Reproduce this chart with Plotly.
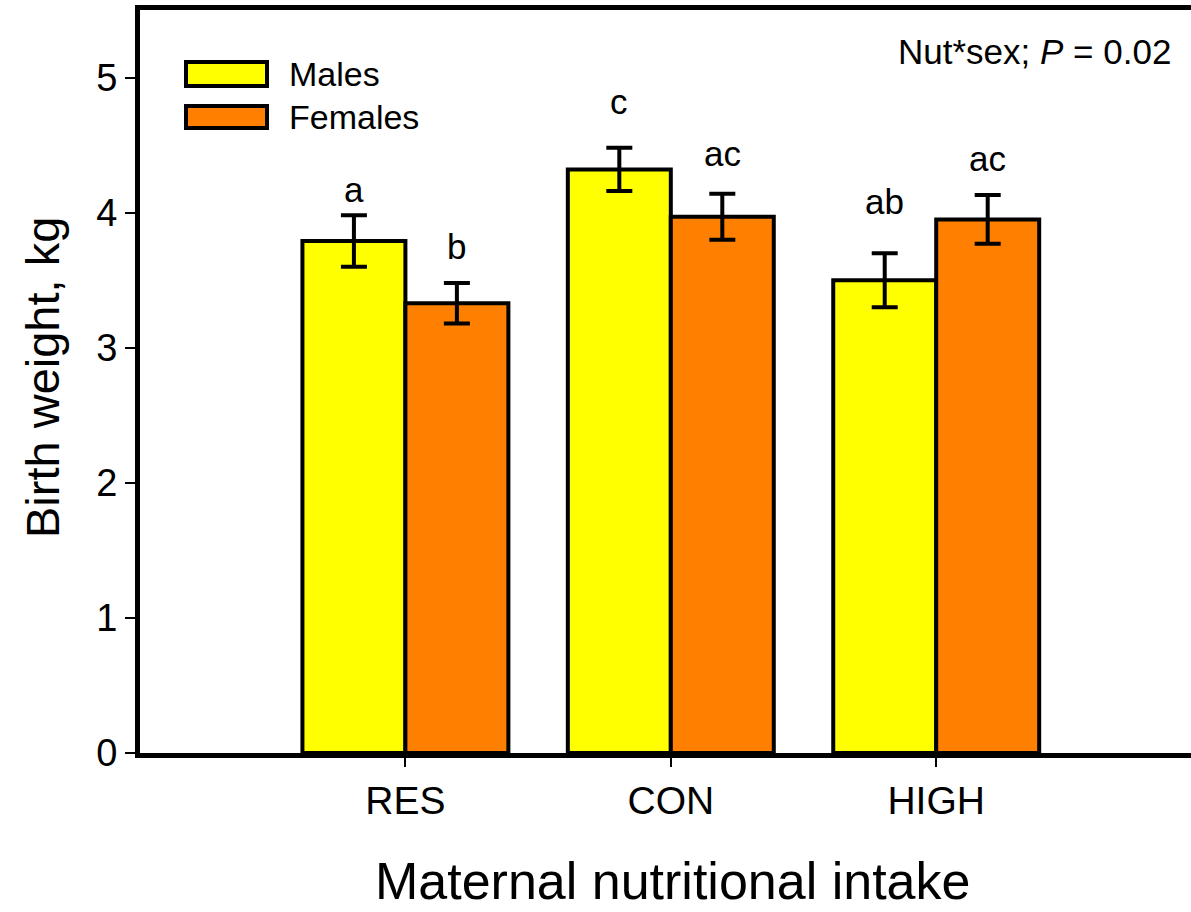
import plotly.graph_objects as go

# Birth weight by maternal nutritional intake and offspring sex
groups = ["RES", "CON", "HIGH"]
males_mean = [3.79, 4.32, 3.50]
males_se = [0.19, 0.16, 0.20]
females_mean = [3.33, 3.97, 3.95]
females_se = [0.15, 0.17, 0.18]
males_letters = ["a", "c", "ab"]
females_letters = ["b", "ac", "ac"]
y_ticks = [0, 1, 2, 3, 4, 5]

# label heights (axis units) for the significance letters
males_letter_y = [4.17, 4.82, 4.08]
females_letter_y = [3.75, 4.44, 4.40]

FONT = "Arial, Liberation Sans, sans-serif"
YELLOW = "#FFFF00"
ORANGE = "#FF8000"

W, H = 1191, 912
L, R, T, B = 140, 0, 10, 159
xpos = list(range(len(groups)))


def px_to_paper(px, py):
    return (px - L) / (W - L - R), (H - B - py) / (H - T - B)


fig = go.Figure()
for name, mean, se, color in [
    ("Males", males_mean, males_se, YELLOW),
    ("Females", females_mean, females_se, ORANGE),
]:
    fig.add_trace(go.Bar(
        x=xpos, y=mean, name=name,
        marker=dict(color=color, line=dict(color="black", width=4)),
        error_y=dict(type="data", array=se, visible=True,
                     color="black", thickness=4, width=13),
        showlegend=False,
    ))

half = (1 - 0.224) / 4
annotations = []
for i in xpos:
    annotations.append(dict(x=i - half, y=males_letter_y[i], xref="x", yref="y",
                            text=males_letters[i], showarrow=False,
                            font=dict(family=FONT, size=35, color="black"),
                            xanchor="center", yanchor="middle"))
    annotations.append(dict(x=i + half, y=females_letter_y[i], xref="x", yref="y",
                            text=females_letters[i], showarrow=False,
                            font=dict(family=FONT, size=35, color="black"),
                            xanchor="center", yanchor="middle"))

# hand-drawn legend
shapes = []
for label, color, top, bot, ty in [("Males", YELLOW, 62, 86, 74),
                                    ("Females", ORANGE, 106, 128, 117)]:
    x0, y0 = px_to_paper(186, bot)
    x1, y1 = px_to_paper(267, top)
    shapes.append(dict(type="rect", xref="paper", yref="paper",
                       x0=x0, x1=x1, y0=y0, y1=y1,
                       fillcolor=color, line=dict(color="black", width=4)))
    tx, tyy = px_to_paper(287, ty)
    annotations.append(dict(x=tx, y=tyy, xref="paper", yref="paper", text=label,
                            showarrow=False, xanchor="left", yanchor="middle",
                            font=dict(family=FONT, size=34, color="black")))

nx, ny = px_to_paper(1173, 51)
annotations.append(dict(x=nx, y=ny, xref="paper", yref="paper",
                        text="Nut*sex; <i>P</i> = 0.02", showarrow=False,
                        xanchor="right", yanchor="middle",
                        font=dict(family=FONT, size=35, color="black")))

# axis titles
tx, ty = px_to_paper(42, 378)
annotations.append(dict(x=tx, y=ty, xref="paper", yref="paper",
                        text="Birth weight, kg", textangle=-90, showarrow=False,
                        xanchor="center", yanchor="middle",
                        font=dict(family=FONT, size=47, color="black")))
tx, ty = px_to_paper(672, 911)
annotations.append(dict(x=tx, y=ty, xref="paper", yref="paper",
                        text="Maternal nutritional intake", showarrow=False,
                        xanchor="center", yanchor="bottom", borderpad=0,
                        font=dict(family=FONT, size=52, color="black")))

fig.update_layout(
    width=W, height=H,
    margin=dict(l=L, r=R, t=T, b=B, pad=0),
    paper_bgcolor="white", plot_bgcolor="white",
    barmode="group", bargap=0.224, bargroupgap=0,
    font=dict(family=FONT, color="black"),
    annotations=annotations, shapes=shapes,
    xaxis=dict(range=[-1, 2.96], tickvals=xpos, ticktext=groups,
               showline=True, linecolor="black", linewidth=5, mirror=True,
               ticks="outside", ticklen=9, tickwidth=2, tickcolor="black",
               tickfont=dict(family=FONT, size=39, color="black"),
               showgrid=False, zeroline=False),
    yaxis=dict(range=[0, 5.5], tickvals=y_ticks,
               showline=True, linecolor="black", linewidth=5,
               ticks="outside", ticklen=10, tickwidth=2, tickcolor="black",
               tickfont=dict(family=FONT, size=38, color="black"),
               showgrid=False, zeroline=False),
)

fig.write_html("out.html")
